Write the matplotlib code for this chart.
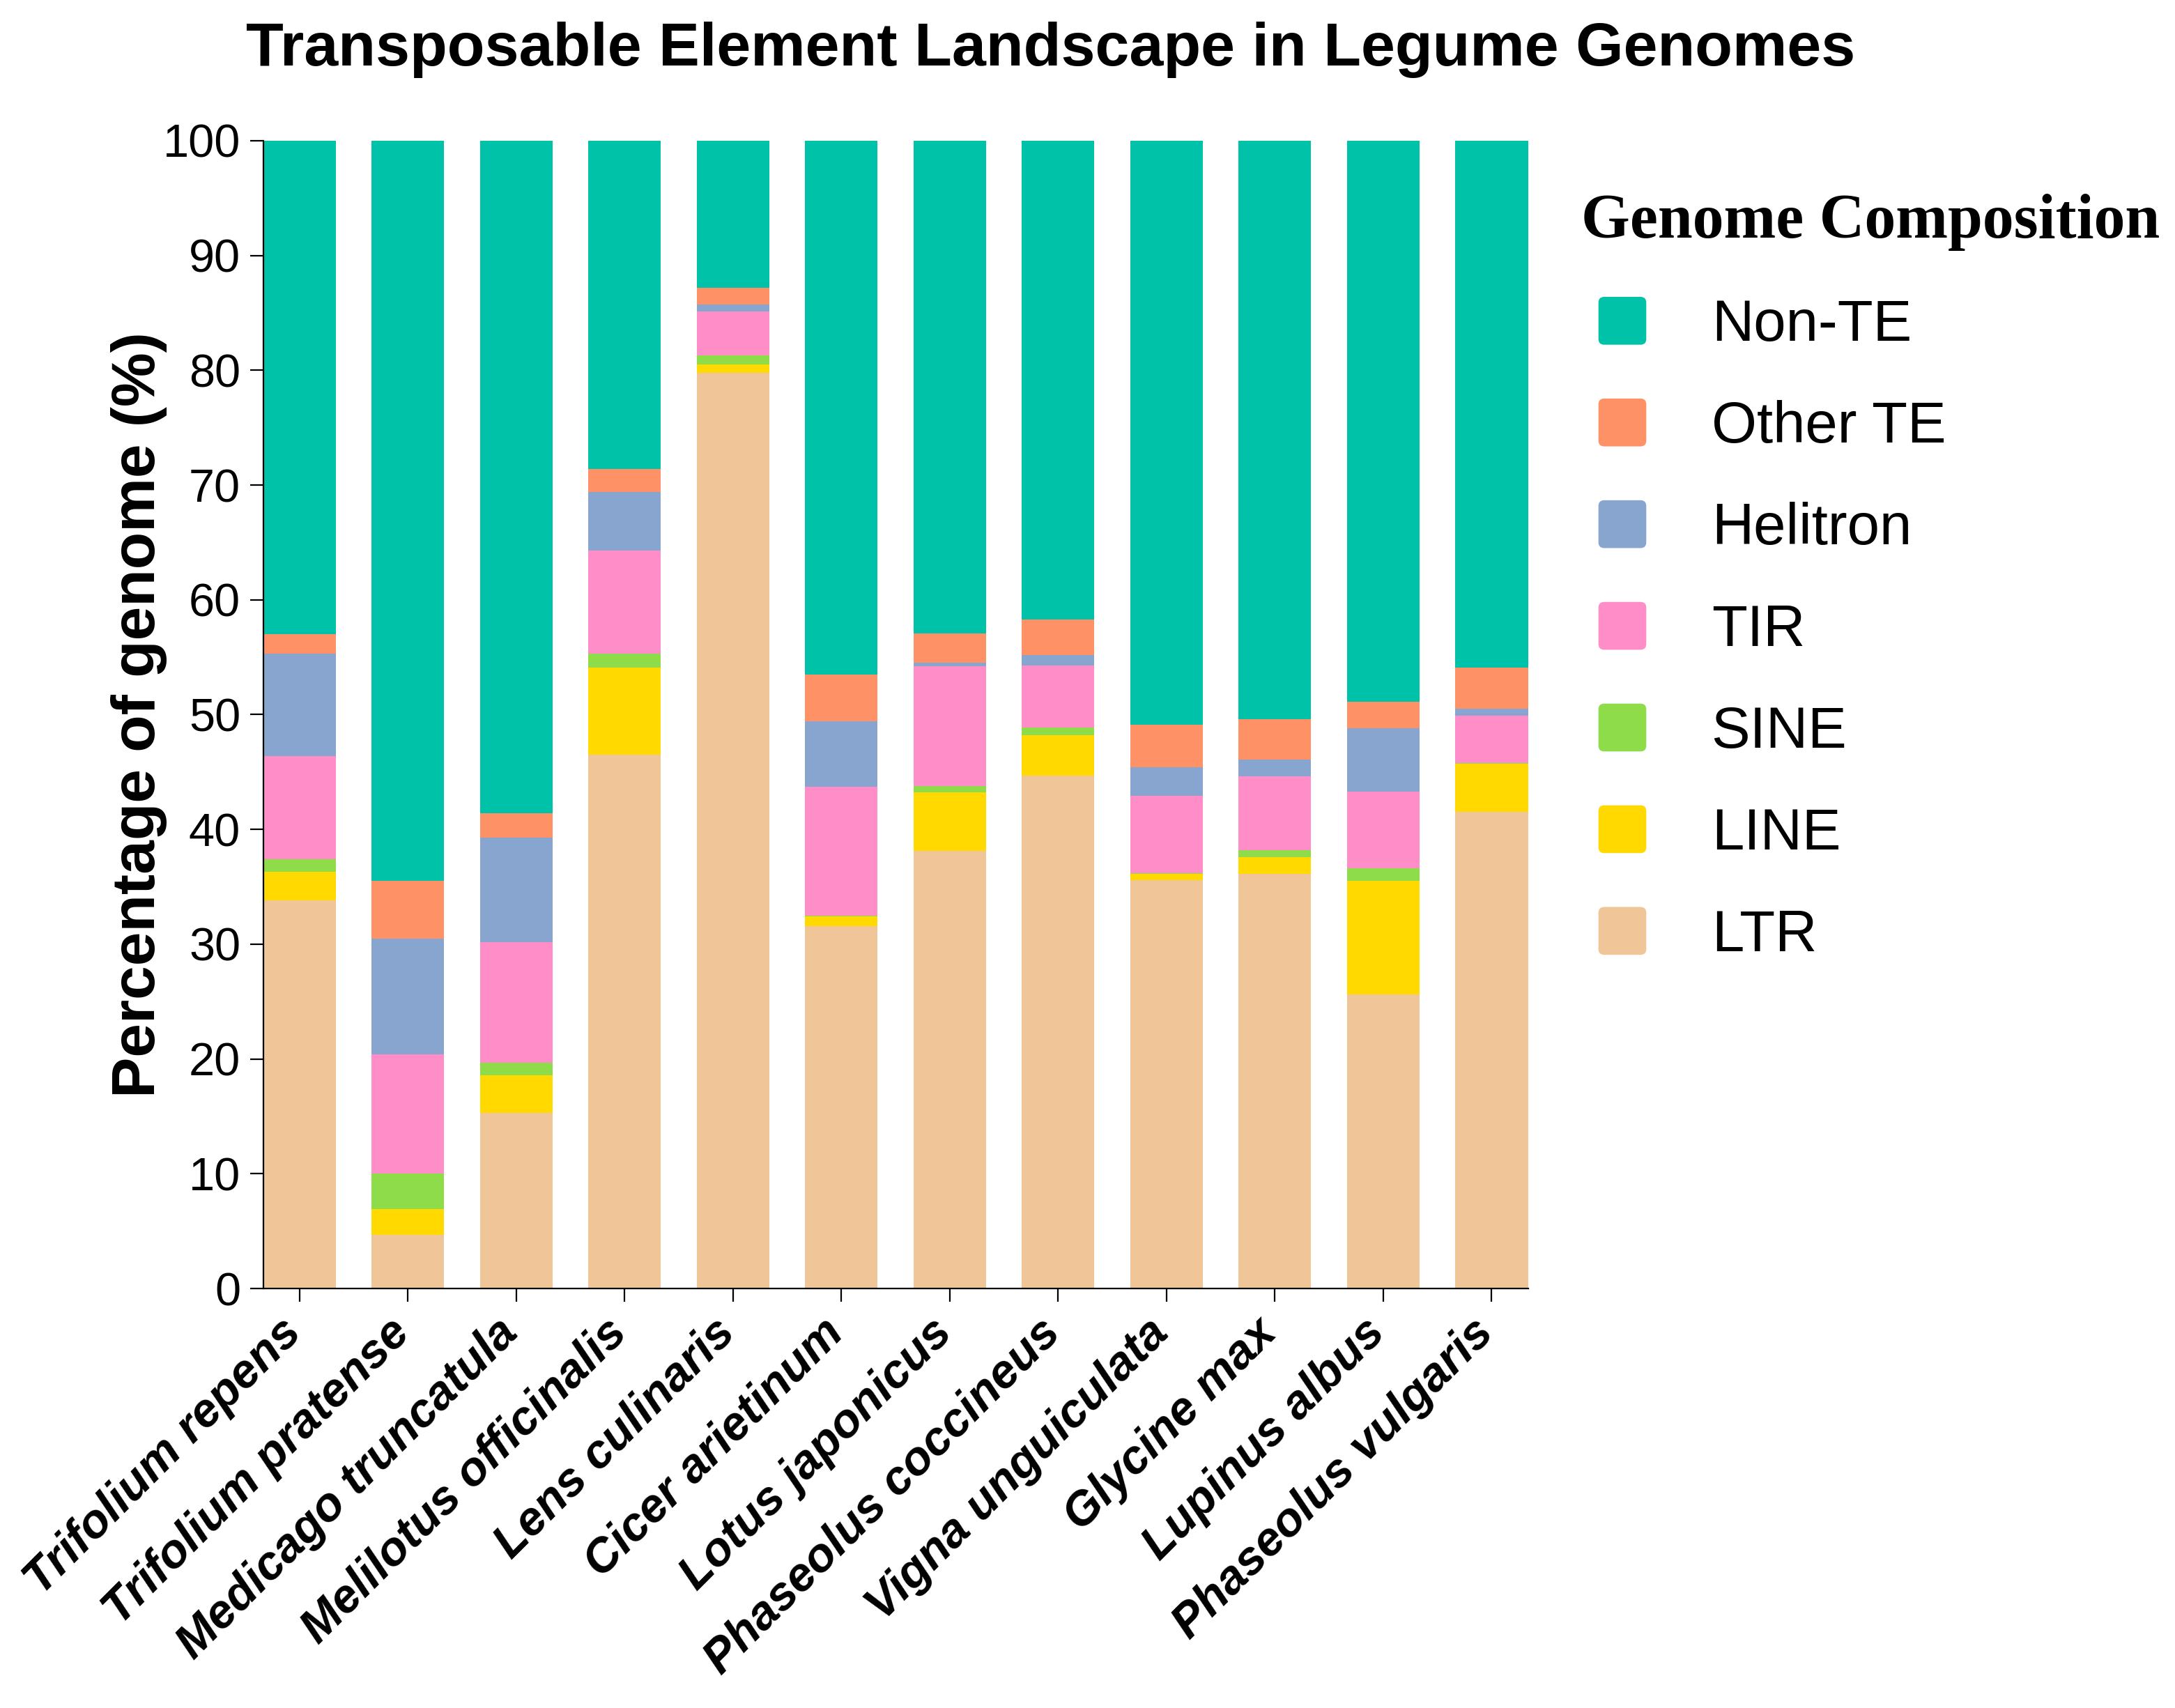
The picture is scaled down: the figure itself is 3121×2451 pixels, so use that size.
import matplotlib
matplotlib.use("Agg")
import matplotlib.pyplot as plt
import matplotlib.transforms as mtransforms
from matplotlib.patches import Patch, FancyBboxPatch
from matplotlib.legend_handler import HandlerPatch
import numpy as np

plt.rcParams['font.family'] = ['Liberation Sans', 'DejaVu Sans']

species = ["Trifolium repens", "Trifolium pratense", "Medicago truncatula",
           "Melilotus officinalis", "Lens culinaris", "Cicer arietinum",
           "Lotus japonicus", "Phaseolus coccineus", "Vigna unguiculata",
           "Glycine max", "Lupinus albus", "Phaseolus vulgaris"]

ltr      = [33.8, 4.7, 15.3, 46.5, 79.8, 31.6, 38.1, 44.7, 35.6, 36.1, 25.6, 41.5]
line     = [2.5, 2.2, 3.3, 7.6, 0.7, 0.8, 5.1, 3.5, 0.5, 1.5, 9.9, 4.2]
sine     = [1.1, 3.1, 1.1, 1.2, 0.8, 0.1, 0.6, 0.7, 0.1, 0.6, 1.1, 0.1]
tir      = [9.0, 10.4, 10.5, 9.0, 3.8, 11.2, 10.4, 5.4, 6.7, 6.4, 6.7, 4.1]
helitron = [8.9, 10.1, 9.1, 5.1, 0.6, 5.7, 0.3, 0.9, 2.5, 1.5, 5.5, 0.6]
other_te = [1.7, 5.0, 2.1, 2.0, 1.5, 4.1, 2.6, 3.1, 3.7, 3.5, 2.3, 3.6]
non_te   = [43.0, 64.5, 58.6, 28.6, 12.8, 46.5, 42.9, 41.7, 50.9, 50.4, 48.9, 45.9]

categories = ["LTR", "LINE", "SINE", "TIR", "Helitron", "Other TE", "Non-TE"]
series = [ltr, line, sine, tir, helitron, other_te, non_te]
colors = ["#F0C597", "#FFD900", "#8FDC4A", "#FF8DC7", "#88A5CF", "#FF9166", "#00C2A8"]

fig = plt.figure(figsize=(15.605, 12.255), dpi=200)
ax = fig.add_axes([0.121, 0.2456, 0.5815, 0.672])

x = np.arange(len(species))
width = 0.67
bottom = np.zeros(len(species))
for name, vals, c in zip(categories, series, colors):
    ax.bar(x, vals, width, bottom=bottom, color=c, label=name, edgecolor='none')
    bottom += np.array(vals)

ax.set_xlim(-width / 2, len(species) - 1 + width / 2)
ax.set_ylim(0, 100)
ax.set_yticks(np.arange(0, 101, 10))
ax.set_xticks(x)
ax.tick_params(axis='y', labelsize=24, length=6.7, width=0.8, direction='out', pad=5)
ax.tick_params(axis='x', length=6.7, width=0.8, direction='out', pad=3.5)
ax.set_xticklabels(species, rotation=45, ha='right', rotation_mode='default',
                   fontsize=24.5, fontweight='bold', fontstyle='italic')
offset = mtransforms.ScaledTranslation(5.5 / 72, -1 / 72, fig.dpi_scale_trans)
for tick in ax.xaxis.get_major_ticks():
    tick.label1.set_transform(tick.label1.get_transform() + offset)
for s in ['top', 'right']:
    ax.spines[s].set_visible(False)
for s in ['left', 'bottom']:
    ax.spines[s].set_linewidth(0.8)

ax.set_ylabel("Percentage of genome (%)", fontsize=31.5, fontweight='bold')
ax.yaxis.set_label_coords(-0.076, 0.5)

fig.text(0.483, 0.971, "Transposable Element Landscape in Legume Genomes",
         ha='center', va='center', fontsize=31.7, fontweight='bold')


class RoundHandler(HandlerPatch):
    def create_artists(self, legend, orig_handle, xdescent, ydescent, width,
                       height, fontsize, trans):
        side = height
        x0 = -xdescent + width - side
        p = FancyBboxPatch((x0, -ydescent), side, side,
                           boxstyle="round,pad=0,rounding_size=%f" % (side * 0.12),
                           facecolor=orig_handle.get_facecolor(), edgecolor='none',
                           transform=trans)
        return [p]


handles = [Patch(facecolor=c, label=n) for n, c in zip(categories, colors)][::-1]
leg = fig.legend(handles=handles, loc='upper left', bbox_to_anchor=(0.727, 0.8865),
                 frameon=False, fontsize=30, title="Genome Composition",
                 title_fontproperties={'family': 'Liberation Serif', 'weight': 'bold', 'size': 32.3},
                 alignment='left', handlelength=1.12, handleheight=0.89,
                 handletextpad=1.12, labelspacing=0.79, borderpad=0, borderaxespad=0,
                 handler_map={Patch: RoundHandler()})

fig.savefig("out.png", dpi=200)
